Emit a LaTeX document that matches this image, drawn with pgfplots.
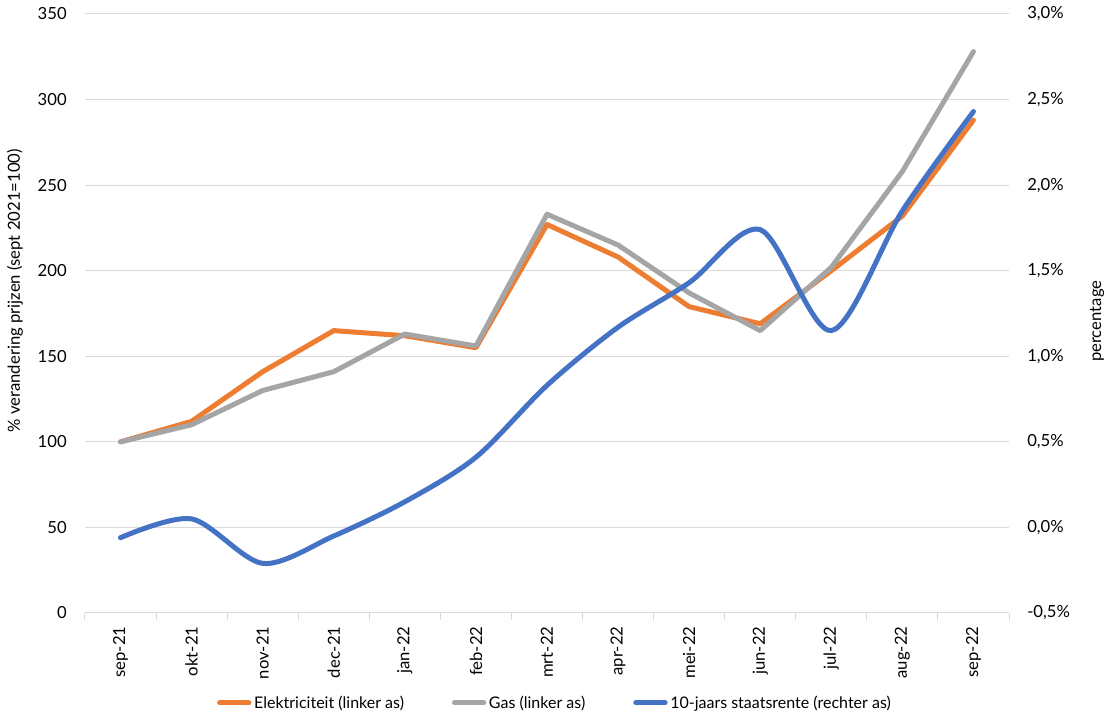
\documentclass[border=0pt]{standalone}
\usepackage{pgfplots}
\usepackage{pgfplotstable}
\pgfplotsset{compat=1.18}
\usepackage{fontspec}
\setmainfont{Lato}

\definecolor{elek}{HTML}{ED7D31}
\definecolor{gas}{HTML}{A5A5A5}
\definecolor{rente}{HTML}{4472C4}
\definecolor{gridgray}{HTML}{D9D9D9}

% x: 0 = sep-21 ... 12 = sep-22
\pgfplotstableread{
x  elek gas rente
0  100  100 -0.06
1  112  110  0.05
2  141  130 -0.21
3  165  141 -0.05
4  162  163  0.15
5  155  156  0.41
6  227  233  0.83
7  208  215  1.17
8  179  187  1.43
9  169  165  1.74
10 200  202  1.15
11 232  258  1.85
12 288  328  2.43
}\data

\begin{document}
\begin{tikzpicture}
\pgfplotsset{
  every axis/.append style={
    scale only axis, width=693pt, height=449.25pt,
    xmin=-0.5, xmax=12.5,
    font=\fontsize{12.5}{14}\selectfont,
    /pgf/number format/assume math mode=true,
  },
}
\begin{axis}[
  ymin=0, ymax=350, ytick={0,50,...,350},
  axis x line*=bottom, axis y line*=left,
  y axis line style={draw=none},
  x axis line style={draw=gridgray, line width=0.75pt},
  ymajorgrids, grid style={draw=gridgray, line width=0.75pt},
  xtick={0,...,12},
  xticklabels={sep-21,okt-21,nov-21,dec-21,jan-22,feb-22,mrt-22,apr-22,mei-22,jun-22,jul-22,aug-22,sep-22},
  minor xtick={-0.5,0.5,...,12.5},
  major tick length=0pt, minor tick length=5.25pt, tick align=outside,
  minor tick style={draw=gridgray, line width=0.75pt},
  xticklabel style={rotate=90, anchor=east, inner sep=0pt},
  xticklabel shift=10pt,
  yticklabel style={anchor=east, inner sep=0pt},
  yticklabel shift=13.5pt,
  ylabel={\% verandering prijzen (sept 2021=100)},
  ylabel style={at={(axis description cs:0,0.538)}, anchor=center, yshift=52.5pt},
]
\addplot[elek, line width=3.75pt, line join=round, line cap=round] table[x=x, y=elek] {\data};
\addplot[gas, line width=3.75pt, line join=round, line cap=round] table[x=x, y=gas] {\data};
\end{axis}

\begin{axis}[
  ymin=-0.5, ymax=3, ytick={-0.5,0,...,3},
  axis y line*=right, axis x line=none,
  y axis line style={draw=none},
  major tick length=0pt,
  yticklabel={\pgfmathprintnumber[fixed,fixed zerofill,precision=1,use comma]{\tick}\%},
  yticklabel style={anchor=west, inner sep=0pt},
  yticklabel shift=13.5pt,
  ylabel={percentage},
  ylabel style={at={(axis description cs:1,0.487)}, anchor=center, yshift=-66pt},
  legend style={at={(axis description cs:0.509,-0.150)}, anchor=center, draw=none,
    fill=none, font=\fontsize{12}{14}\selectfont,
    /tikz/every even column/.append style={column sep=34pt}},
  legend columns=3,
  legend image code/.code={\draw[#1, line width=3.75pt, line cap=round] (0pt,0pt) -- (22pt,0pt);},
]
\addlegendimage{elek}
\addlegendentry{Elektriciteit (linker as)}
\addlegendimage{gas}
\addlegendentry{Gas (linker as)}
\addplot[rente, line width=3.75pt, smooth, tension=0.5, line cap=round] table[x=x, y=rente] {\data};
\addlegendentry{10-jaars staatsrente (rechter as)}
\end{axis}

\pgfresetboundingbox
\path[use as bounding box] (-63.75pt,-86.25pt) rectangle (769.5pt,459.75pt);
\end{tikzpicture}
\end{document}
